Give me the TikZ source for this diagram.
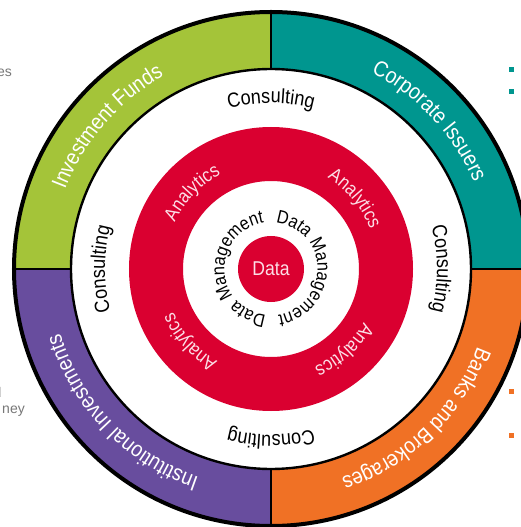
\documentclass[tikz,border=0pt]{standalone}
\usepackage{fontspec}
\setmainfont{Liberation Sans}
\newfontfamily\ringfont[FakeStretch=0.88]{Liberation Sans}
\usetikzlibrary{decorations.text}

\definecolor{fundgreen}{RGB}{164,196,57}
\definecolor{corpteal}{RGB}{0,150,143}
\definecolor{bankorange}{RGB}{240,113,37}
\definecolor{instpurple}{RGB}{104,77,158}
\definecolor{corered}{RGB}{218,0,48}
\definecolor{softpink}{RGB}{252,222,230}
\definecolor{sidegray}{RGB}{120,120,120}

% text set along a clockwise arc, tops of the letters facing outwards
% #1 radius, #2 centre angle, #3 half span, #4 font size, #5 colour, #6 text
\newcommand{\arctext}[6]{%
  \path[decorate,decoration={text along path,text align=center,text color=#5,
      text={|\ringfont\fontsize{#4}{#4}\selectfont|#6}}]
    ({#2+#3}:#1) arc[start angle={#2+#3},end angle={#2-#3},radius=#1];}

% one quarter of the outer band
\newcommand{\quarter}[2]{%
  \fill[#1] (#2:257pt) arc[start angle=#2,end angle={#2+90},radius=257pt]
    -- ({#2+90}:200pt) arc[start angle={#2+90},end angle=#2,radius=200pt] -- cycle;}

\tikzset{
  sidetext/.style={text=sidegray,font=\fontsize{14}{14}\selectfont,inner sep=0pt},
  bullet/.style={minimum size=5pt,inner sep=0pt,draw=none},
}

\begin{document}
\begin{tikzpicture}
\useasboundingbox (-271pt,-258pt) rectangle (250pt,269pt);
\fill[white] (-271pt,-258pt) rectangle (250pt,269pt);

% outer band in four sectors
\quarter{corpteal}{0}
\quarter{fundgreen}{90}
\quarter{instpurple}{180}
\quarter{bankorange}{270}

% red analytics ring and the data core
\fill[corered,even odd rule] (0,0) circle[radius=142pt] circle[radius=88pt];
\node[circle,fill=corered,minimum size=66pt,inner sep=0pt,text=softpink,
  font=\ringfont\fontsize{20}{20}\selectfont] (core) at (0,0) {Data};

% outlines of the band
\foreach \a in {0,90,180,270}
  \draw[line width=2.4pt] (\a:200pt) -- (\a:257pt);
\draw[line width=2.4pt] (0,0) circle[radius=200pt];
\draw[line width=4pt] (0,0) circle[radius=257pt];

% client groups
\arctext{220.5pt}{139}{55}{22}{white}{Investment Funds}
\arctext{220.5pt}{43}{55}{22}{white}{Corporate Issuers}
\arctext{220.5pt}{-46}{55}{22}{white}{Banks and Brokerages}
\arctext{220.5pt}{224}{55}{22}{white}{Institutional Investments}

% consulting ring
\arctext{166pt}{90}{40}{20.5}{black}{Consulting}
\arctext{166pt}{0}{40}{20.5}{black}{Consulting}
\arctext{166pt}{270}{40}{20.5}{black}{Consulting}
\arctext{166pt}{180}{40}{20.5}{black}{Consulting}

% analytics ring
\arctext{107pt}{136}{50}{19.3}{softpink}{Analytics}
\arctext{107pt}{40}{50}{19.3}{softpink}{Analytics}
\arctext{107pt}{-48}{50}{19.3}{softpink}{Analytics}
\arctext{107pt}{222}{50}{19.3}{softpink}{Analytics}

% data management ring
\arctext{46.5pt}{63}{32}{18.5}{black}{Data}
\arctext{46.5pt}{-23}{75}{18.5}{black}{Management}
\arctext{46.5pt}{243}{32}{18.5}{black}{Data}
\arctext{46.5pt}{157}{75}{18.5}{black}{Management}

% surrounding page text and bullets
\node[sidetext,anchor=base east] (tes) at (-259pt,192pt) {es};
\node[sidetext,anchor=base east] (td) at (-269.5pt,-128pt) {d};
\node[sidetext,anchor=base east] (tney) at (-246pt,-144pt) {ney};
\node[bullet,fill=corpteal] (b1) at (240.5pt,199.5pt) {};
\node[bullet,fill=corpteal] (b2) at (240.5pt,177.5pt) {};
\node[bullet,fill=bankorange] (b3) at (240.5pt,-122.5pt) {};
\node[bullet,fill=bankorange] (b4) at (240.5pt,-166.5pt) {};
\end{tikzpicture}
\end{document}
